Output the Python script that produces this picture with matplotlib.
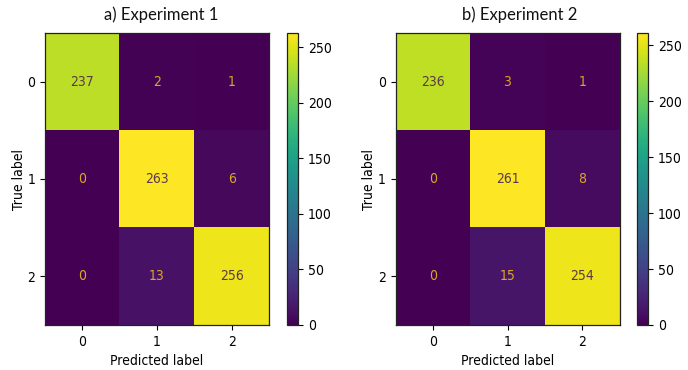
import matplotlib
matplotlib.use("Agg")
import matplotlib.pyplot as plt
import numpy as np

labels = ["0", "1", "2"]
cm_exp1 = [[237, 2, 1],
           [0, 263, 6],
           [0, 13, 256]]
cm_exp2 = [[236, 3, 1],
           [0, 261, 8],
           [0, 15, 254]]
titles = ["a) Experiment 1", "b) Experiment 2"]
cbar_ticks = [0, 50, 100, 150, 200, 250]

W, H = 688, 370
fig = plt.figure(figsize=(W / 100, H / 100), dpi=100)
fig.patch.set_facecolor("white")

tick_font = dict(family="DejaVu Sans", fontstretch="condensed")
light_txt = "#d9a824"
dark_txt = "#5a3a48"
fs = 10

panels = [
    dict(cm=cm_exp1, title=titles[0], ax=(45, 325, 224, 292), cb=(287, 11), tx=161),
    dict(cm=cm_exp2, title=titles[1], ax=(395.5, 325, 224, 292), cb=(637, 11), tx=520),
]

for p in panels:
    cm = np.array(p["cm"])
    x0, yb, w, h = p["ax"]
    ax = fig.add_axes([x0 / W, (H - yb) / H, w / W, h / H])
    im = ax.imshow(cm, cmap="viridis", vmin=0, vmax=cm.max(), aspect="auto",
                   interpolation="nearest")
    thresh = (cm.max() + cm.min()) / 2.0
    for i in range(cm.shape[0]):
        for j in range(cm.shape[1]):
            c = dark_txt if cm[i, j] > thresh else light_txt
            ax.text(j, i, str(cm[i, j]), ha="center", va="center", color=c,
                    fontsize=fs, **tick_font)
    ax.set_xticks(range(len(labels)))
    ax.set_yticks(range(len(labels)))
    ax.set_xticklabels(labels, fontsize=fs, **tick_font)
    ax.set_yticklabels(labels, fontsize=fs, **tick_font)
    ax.set_xlabel("Predicted label", fontsize=fs, labelpad=4, **tick_font)
    ax.set_ylabel("True label", fontsize=fs, labelpad=1, **tick_font)
    for s in ax.spines.values():
        s.set_color("#222222")
        s.set_linewidth(0.9)

    cx, cw = p["cb"]
    cax = fig.add_axes([cx / W, (H - yb) / H, cw / W, h / H])
    cb = fig.colorbar(im, cax=cax, ticks=cbar_ticks)
    cb.ax.tick_params(labelsize=fs)
    for t in cb.ax.get_yticklabels():
        t.set_fontstretch("condensed")
    cb.outline.set_edgecolor("#222222")
    cb.outline.set_linewidth(0.9)

    fig.text(p["tx"] / W, 1 - 15 / H, p["title"], ha="center", va="center",
             fontsize=12, family="Lato", color="#111111")

fig.savefig("out.png", dpi=100)
